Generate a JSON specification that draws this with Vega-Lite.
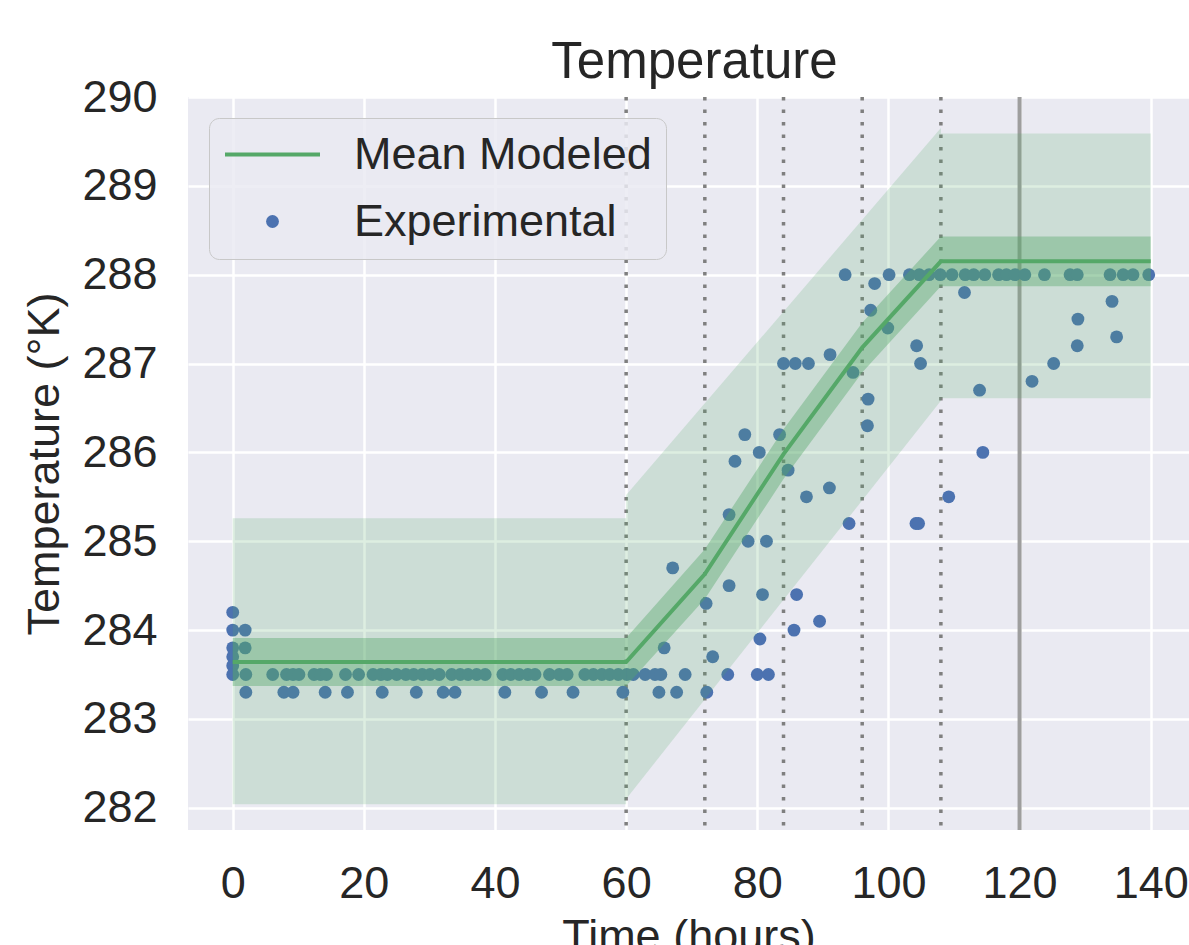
{
  "$schema": "https://vega.github.io/schema/vega-lite/v6.json",
  "width": 1001,
  "height": 733,
  "autosize": "none",
  "padding": {"left": 188, "top": 97, "right": 0, "bottom": 115},
  "background": "white",
  "title": {"text": "Temperature", "fontSize": 51, "font": "Liberation Sans", "fontWeight": "normal", "color": "#262626", "offset": -14, "anchor": "middle", "dx": 6},
  "datasets": {
    "points": [
      {"t":0,"v":284.2},{"t":0,"v":284.0},{"t":0,"v":283.8},{"t":0,"v":283.7},{"t":0,"v":283.6},{"t":0,"v":283.5},
      {"t":1.9,"v":284.0},{"t":1.9,"v":283.8},{"t":2.0,"v":283.5},{"t":2.0,"v":283.3},
      {"t":6.1,"v":283.5},{"t":8.2,"v":283.5},{"t":9.2,"v":283.5},{"t":10.1,"v":283.5},{"t":12.4,"v":283.5},{"t":13.4,"v":283.5},{"t":14.3,"v":283.5},{"t":17.2,"v":283.5},{"t":19.2,"v":283.5},{"t":21.4,"v":283.5},{"t":22.6,"v":283.5},{"t":23.6,"v":283.5},{"t":25.0,"v":283.5},{"t":26.4,"v":283.5},{"t":27.6,"v":283.5},{"t":28.9,"v":283.5},{"t":30.1,"v":283.5},{"t":31.5,"v":283.5},{"t":33.4,"v":283.5},{"t":34.7,"v":283.5},{"t":35.9,"v":283.5},{"t":37.2,"v":283.5},{"t":38.5,"v":283.5},{"t":41.2,"v":283.5},{"t":42.4,"v":283.5},{"t":43.7,"v":283.5},{"t":45.0,"v":283.5},{"t":46.1,"v":283.5},{"t":48.3,"v":283.5},{"t":49.8,"v":283.5},{"t":51.0,"v":283.5},{"t":53.7,"v":283.5},{"t":55.0,"v":283.5},{"t":56.3,"v":283.5},{"t":57.5,"v":283.5},{"t":58.8,"v":283.5},{"t":60.1,"v":283.5},{"t":61.1,"v":283.5},{"t":62.9,"v":283.5},{"t":64.4,"v":283.5},{"t":65.3,"v":283.5},{"t":69.0,"v":283.5},{"t":75.5,"v":283.5},{"t":80.0,"v":283.5},{"t":81.7,"v":283.5},
      {"t":7.8,"v":283.3},{"t":9.2,"v":283.3},{"t":14.1,"v":283.3},{"t":17.5,"v":283.3},{"t":22.8,"v":283.3},{"t":28.0,"v":283.3},{"t":32.1,"v":283.3},{"t":33.9,"v":283.3},{"t":41.5,"v":283.3},{"t":47.1,"v":283.3},{"t":51.9,"v":283.3},{"t":59.5,"v":283.3},{"t":65.0,"v":283.3},{"t":67.7,"v":283.3},{"t":72.3,"v":283.3},
      {"t":65.8,"v":283.8},{"t":73.2,"v":283.7},{"t":80.4,"v":283.9},{"t":85.6,"v":284.0},{"t":89.5,"v":284.1},{"t":86.0,"v":284.4},{"t":80.8,"v":284.4},{"t":72.2,"v":284.3},{"t":75.7,"v":284.5},{"t":67.1,"v":284.7},{"t":78.6,"v":285.0},{"t":81.4,"v":285.0},{"t":94.0,"v":285.2},{"t":104.2,"v":285.2},{"t":104.6,"v":285.2},{"t":75.7,"v":285.3},{"t":87.5,"v":285.5},{"t":109.2,"v":285.5},{"t":91.0,"v":285.6},{"t":84.7,"v":285.8},{"t":76.6,"v":285.9},{"t":80.3,"v":286.0},{"t":114.4,"v":286.0},{"t":78.1,"v":286.2},{"t":83.4,"v":286.2},{"t":96.8,"v":286.3},{"t":96.9,"v":286.6},{"t":113.9,"v":286.7},{"t":121.9,"v":286.8},{"t":94.6,"v":286.9},{"t":84.0,"v":287.0},{"t":85.8,"v":287.0},{"t":87.8,"v":287.0},{"t":104.9,"v":287.0},{"t":125.2,"v":287.0},{"t":91.1,"v":287.1},{"t":104.3,"v":287.2},{"t":128.8,"v":287.2},{"t":134.8,"v":287.3},{"t":99.9,"v":287.4},{"t":128.9,"v":287.5},{"t":97.3,"v":287.6},{"t":134.1,"v":287.7},{"t":111.6,"v":287.8},{"t":97.9,"v":287.9},
      {"t":93.4,"v":288.0},{"t":100.1,"v":288.0},{"t":103.2,"v":288.0},{"t":104.7,"v":288.0},{"t":106.2,"v":288.0},{"t":107.9,"v":288.0},{"t":109.7,"v":288.0},{"t":111.7,"v":288.0},{"t":113.0,"v":288.0},{"t":114.7,"v":288.0},{"t":116.8,"v":288.0},{"t":118.0,"v":288.0},{"t":119.3,"v":288.0},{"t":120.8,"v":288.0},{"t":123.8,"v":288.0},{"t":127.7,"v":288.0},{"t":128.8,"v":288.0},{"t":133.8,"v":288.0},{"t":135.8,"v":288.0},{"t":137.3,"v":288.0},{"t":139.7,"v":288.0}
    ],
    "mean": [
      {"t":0,"v":283.64,"lo":283.37,"hi":283.91},{"t":60,"v":283.64,"lo":283.37,"hi":283.91},{"t":72,"v":284.63,"lo":284.35,"hi":284.91},{"t":84,"v":285.98,"lo":285.70,"hi":286.26},{"t":96,"v":287.18,"lo":286.90,"hi":287.46},{"t":108,"v":288.15,"lo":287.87,"hi":288.43},{"t":140,"v":288.15,"lo":287.87,"hi":288.43}
    ],
    "outer": [
      {"seg":"a","t":0,"lo":282.04,"hi":285.26},{"seg":"a","t":60,"lo":282.04,"hi":285.26},
      {"seg":"b","t":60,"lo":282.1,"hi":285.52},{"seg":"b","t":108,"lo":286.58,"hi":289.65},
      {"seg":"c","t":108,"lo":286.61,"hi":289.59},{"seg":"c","t":140,"lo":286.61,"hi":289.59}
    ],
    "dotted": [{"t":60},{"t":72},{"t":84},{"t":96},{"t":108}],
    "solid": [{"t":120}]
  },
  "config": {
    "view": {"fill": "#eaeaf2", "stroke": null},
    "axis": {"domain": false, "ticks": false, "grid": true, "gridColor": "#ffffff", "gridWidth": 2.5, "labelFont": "Liberation Sans", "labelFontSize": 45, "labelColor": "#262626", "titleFont": "Liberation Sans", "titleFontSize": 45, "titleFontWeight": "normal", "titleColor": "#262626", "labelPadding": 31},
    "legend": {"labelFont": "Liberation Sans", "labelFontSize": 45, "labelColor": "#262626", "labelLimit": 0, "title": null, "orient": "none", "legendX": 21, "legendY": 21, "padding": 14, "rowPadding": 21, "clipHeight": 45, "labelOffset": 32, "fillColor": "rgba(234,234,242,0.85)", "strokeColor": "#c8c8c8", "cornerRadius": 10, "symbolOpacity": 1}
  },
  "encoding": {
    "x": {"type": "quantitative", "scale": {"domain": [-6.82, 145.84], "nice": false, "zero": false}, "axis": {"values": [0,20,40,60,80,100,120,140], "title": "Time (hours)", "titlePadding": 8}},
    "y": {"type": "quantitative", "scale": {"domain": [281.75, 290.0], "nice": false, "zero": false}, "axis": {"values": [282,283,284,285,286,287,288,289,290], "title": "Temperature (°K)", "titlePadding": 14}}
  },
  "layer": [
    {"data": {"name": "dotted"}, "mark": {"type": "rule", "color": "#7f7f7f", "strokeWidth": 3.5, "strokeDash": [3.5, 9]}, "encoding": {"x": {"field": "t"}}},
    {"data": {"name": "solid"}, "mark": {"type": "rule", "color": "#9e9e9e", "strokeWidth": 4}, "encoding": {"x": {"field": "t"}}},
    {"data": {"name": "points"}, "mark": {"type": "point", "filled": true, "opacity": 1, "clip": true},
      "encoding": {
        "x": {"field": "t"}, "y": {"field": "v"},
        "color": {"datum": "Experimental", "type": "nominal", "scale": {"domain": ["Mean Modeled", "Experimental"], "range": ["#55a868", "#4c72b0"]}, "legend": {"title": null}},
        "shape": {"datum": "Experimental", "type": "nominal", "scale": {"domain": ["Mean Modeled", "Experimental"], "range": ["stroke", "circle"]}, "legend": {"title": null}},
        "size": {"datum": "Experimental", "type": "nominal", "scale": {"type": "ordinal", "domain": ["Mean Modeled", "Experimental"], "range": [9025, 165]}, "legend": {"title": null}}
      }},
    {"data": {"name": "outer"}, "mark": {"type": "area", "color": "#55a868", "opacity": 0.2, "clip": true}, "encoding": {"x": {"field": "t"}, "y": {"field": "lo"}, "y2": {"field": "hi"}, "detail": {"field": "seg"}}},
    {"data": {"name": "mean"}, "mark": {"type": "area", "color": "#55a868", "opacity": 0.4, "clip": true}, "encoding": {"x": {"field": "t"}, "y": {"field": "lo"}, "y2": {"field": "hi"}}},
    {"data": {"name": "mean"}, "mark": {"type": "line", "clip": true}, "encoding": {"x": {"field": "t"}, "y": {"field": "v"},
      "color": {"datum": "Mean Modeled", "type": "nominal"},
      "strokeWidth": {"datum": "Mean Modeled", "type": "nominal", "scale": {"type": "ordinal", "domain": ["Mean Modeled", "Experimental"], "range": [4, 0]}, "legend": {"title": null}}}}
  ]
}
